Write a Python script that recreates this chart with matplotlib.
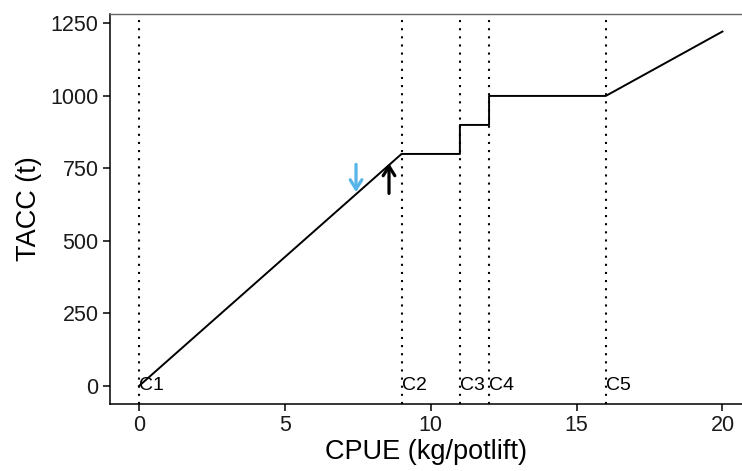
import matplotlib
matplotlib.use("Agg")
import matplotlib.pyplot as plt

plt.rcParams["font.family"] = ["Liberation Sans", "DejaVu Sans"]

# Harvest control rule: TACC as a function of CPUE
cpue = [0, 9, 11, 11, 12, 12, 16, 20]
tacc = [0, 800, 800, 900, 900, 1000, 1000, 1222]

# Breakpoints of the rule
break_x = [0, 9, 11, 12, 16]
break_labels = ["C1", "C2", "C3", "C4", "C5"]

# Arrows marking current positions on the rule
arrow_down = {"x": 7.44, "y_from": 764, "y_to": 668, "color": "#56B4E9"}
arrow_up = {"x": 8.57, "y_from": 664, "y_to": 768, "color": "black"}

fig = plt.figure(figsize=(7.42, 4.71), dpi=100)
ax = fig.add_axes([0.148, 0.1423, 0.852, 0.8277])

for bx, lab in zip(break_x, break_labels):
    ax.axvline(bx, color="black", lw=1.5, linestyle=(0, (1.0, 2.9)), zorder=1)
    ax.text(bx, 0, lab, ha="left", va="center", fontsize=14, zorder=3)

ax.plot(cpue, tacc, color="black", lw=1.4, zorder=2)

for a in (arrow_down, arrow_up):
    ax.annotate("", xy=(a["x"], a["y_to"]), xytext=(a["x"], a["y_from"]),
                arrowprops=dict(arrowstyle="->, head_length=0.34, head_width=0.21",
                                lw=2.3, color=a["color"], mutation_scale=20,
                                shrinkA=0, shrinkB=0), zorder=4)

ax.set_xlim(-1.0, 20.67)
ax.set_ylim(-62, 1282)
ax.set_xticks([0, 5, 10, 15, 20])
ax.set_yticks([0, 250, 500, 750, 1000, 1250])

for side in ("left", "bottom"):
    ax.spines[side].set_color("black")
    ax.spines[side].set_linewidth(1.1)
ax.spines["right"].set_visible(False)
ax.spines["top"].set_color("#666666")
ax.spines["top"].set_linewidth(1.0)

ax.tick_params(axis="both", direction="out", length=5, width=1.1,
               color="black", labelsize=15.5, labelcolor="#1a1a1a", pad=3)

ax.set_xlabel("CPUE (kg/potlift)", fontsize=19.5, labelpad=2)
ax.set_ylabel("TACC (t)", fontsize=19.5, labelpad=6)

fig.savefig("out.png", dpi=100)
